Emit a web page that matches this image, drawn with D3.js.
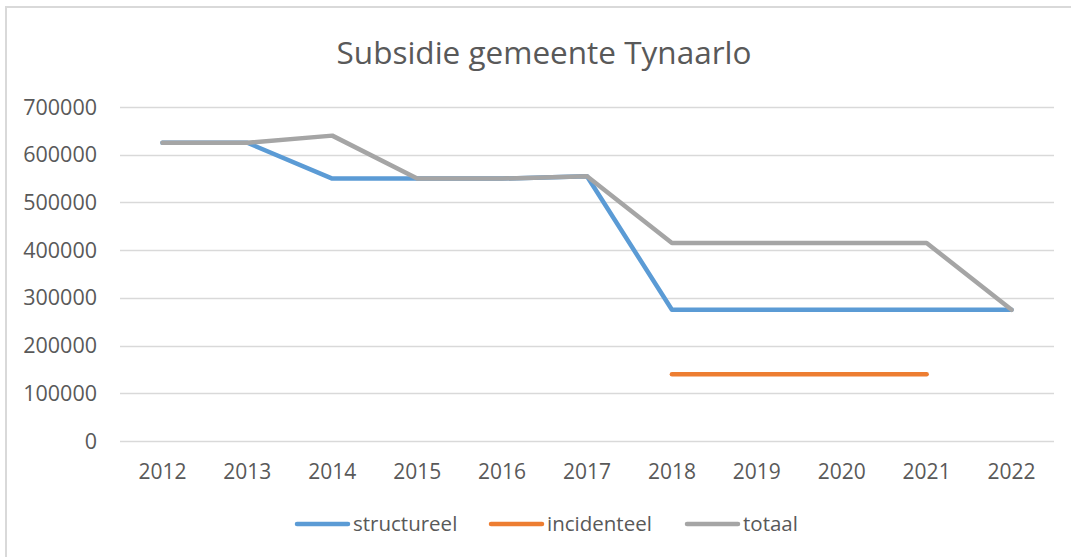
<!DOCTYPE html>
<html lang="nl">
<head>
    <meta charset="UTF-8">
    <title>Subsidie gemeente Tynaarlo</title>
    <style>
        body {
            margin: 0;
            background: #fff;
            font-family: "Open Sans", Arial, sans-serif;
        }
        svg {
            display: block;
        }
    </style>
</head>
<body>
    <svg id="chart" width="1071" height="557"></svg>

    <script src="https://cdn.jsdelivr.net/npm/d3@7"></script>
    <script>
        // data
        const years = ["2012", "2013", "2014", "2015", "2016", "2017", "2018", "2019", "2020", "2021", "2022"];
        const structureel = [625000, 625000, 550000, 550000, 550000, 555000, 275000, 275000, 275000, 275000, 275000];
        const incidenteel = [null, null, null, null, null, null, 140000, 140000, 140000, 140000, null];
        const totaal = [625000, 625000, 640000, 550000, 550000, 555000, 415000, 415000, 415000, 415000, 275000];
        const yTicks = [0, 100000, 200000, 300000, 400000, 500000, 600000, 700000];

        const series = [
            { name: "structureel", values: structureel, color: "#5b9bd5" },
            { name: "incidenteel", values: incidenteel, color: "#ed7d31" },
            { name: "totaal", values: totaal, color: "#a5a5a5" }
        ];

        const svg = d3.select("#chart");
        const textColor = "#595959";

        // chart frame
        svg.append("rect")
            .attr("x", 6).attr("y", 7)
            .attr("width", 1080).attr("height", 560)
            .attr("fill", "#fff")
            .attr("stroke", "#d9d9d9")
            .attr("stroke-width", 2);

        svg.append("text")
            .attr("x", 544).attr("y", 64)
            .attr("text-anchor", "middle")
            .attr("fill", textColor)
            .style("font-size", "31.5px")
            .text("Subsidie gemeente Tynaarlo");

        const x = d3.scalePoint()
            .domain(years)
            .range([120, 1054])
            .padding(0.5);

        const y = d3.scaleLinear()
            .domain([0, 700000])
            .range([441, 107]);

        // gridlines
        svg.append("g")
            .selectAll("line")
            .data(yTicks)
            .join("line")
            .attr("x1", 120).attr("x2", 1054)
            .attr("y1", d => Math.round(y(d)) + 0.5)
            .attr("y2", d => Math.round(y(d)) + 0.5)
            .attr("stroke", "#d9d9d9")
            .attr("stroke-width", 1.3);

        // y labels
        svg.append("g")
            .selectAll("text")
            .data(yTicks)
            .join("text")
            .attr("x", 97)
            .attr("y", d => y(d))
            .attr("dy", "0.35em")
            .attr("text-anchor", "end")
            .attr("fill", textColor)
            .style("font-size", "21.5px")
            .text(d => d);

        // x labels
        svg.append("g")
            .selectAll("text")
            .data(years)
            .join("text")
            .attr("x", d => x(d))
            .attr("y", 472)
            .attr("dy", "0.35em")
            .attr("text-anchor", "middle")
            .attr("fill", textColor)
            .style("font-size", "21px")
            .text(d => d);

        const line = d3.line()
            .defined(d => d.v != null)
            .x(d => x(d.year))
            .y(d => y(d.v));

        svg.append("g")
            .selectAll("path")
            .data(series)
            .join("path")
            .attr("d", s => line(years.map((yr, i) => ({ year: yr, v: s.values[i] }))))
            .attr("fill", "none")
            .attr("stroke", s => s.color)
            .attr("stroke-width", 4.5)
            .attr("stroke-linecap", "round")
            .attr("stroke-linejoin", "round");

        // legend
        const legendX = [297, 491, 687];
        const legend = svg.append("g")
            .selectAll("g")
            .data(series)
            .join("g")
            .attr("transform", (d, i) => `translate(${legendX[i]},524)`);

        legend.append("line")
            .attr("x1", 0).attr("x2", 51)
            .attr("stroke", d => d.color)
            .attr("stroke-width", 4.5)
            .attr("stroke-linecap", "round");

        legend.append("text")
            .attr("x", 56)
            .attr("dy", "0.33em")
            .attr("fill", textColor)
            .style("font-size", "20.5px")
            .text(d => d.name);
    </script>
</body>
</html>
